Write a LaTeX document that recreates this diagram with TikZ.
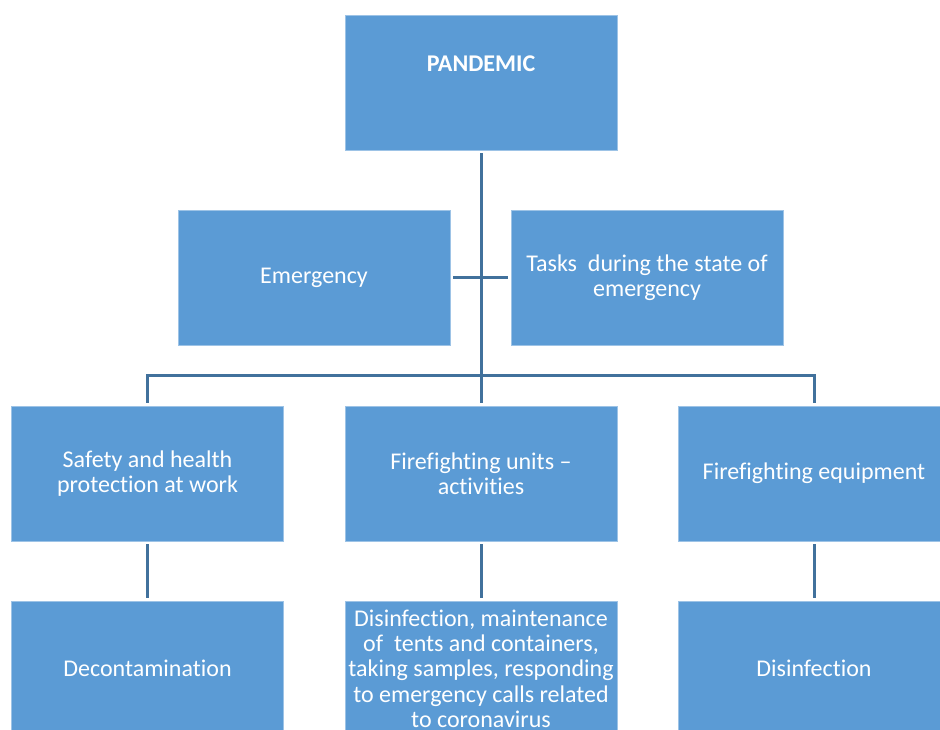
\documentclass[tikz,border=0pt]{standalone}
\usepackage{fontspec}
\setmainfont{Carlito}[Ligatures={NoCommon}]
\definecolor{boxfill}{RGB}{91,155,213}
\definecolor{boxline}{RGB}{157,195,230}
\definecolor{linkcol}{RGB}{65,113,156}
\begin{document}
\begin{tikzpicture}[x=0.75pt, y=-0.75pt,
		box/.style={draw=boxline, line width=0.6pt, fill=boxfill, text=white, align=center,
			minimum width=204pt, minimum height=101.25pt, inner sep=0pt,
			font=\fontsize{18}{19}\selectfont},
		link/.style={draw=linkcol, line width=2.25pt, shorten <=2.25pt, shorten >=2.25pt}]
			%%%%% START %%%%%
			
			\useasboundingbox (0, 0) rectangle (940, 730);
			\clip (0, 0) rectangle (940, 730);
			
			\node[box] (pandemic) at (481, 82.5) {};
			\node[text=white, font=\fontsize{18}{19}\selectfont\bfseries] (pandemicText) at (481, 64) {PANDEMIC};
			
			\node[box] (emergency) at (314, 278) {Emergency};
			\node[box] (tasks) at (647, 278) {Tasks~ during the state of\\emergency};
			
			\node[box] (safety) at (147.5, 473.5) {Safety and health\\protection at work};
			\node[box] (units) at (481, 473.5) {Firefighting units --\\activities};
			\node[box] (equip) at (814, 473.5) {Firefighting equipment};
			
			\node[box] (decon) at (147.5, 668.5) {Decontamination};
			\node[box] (unitTasks) at (481, 668.5) {Disinfection, maintenance\\of~ tents and containers,\\taking samples, responding\\to emergency calls related\\to coronavirus};
			\node[box] (disinf) at (814, 668.5) {Disinfection};
			
			\coordinate (bus) at (481, 376);
			
			\draw[link] (pandemic.south) -- (units.north);
			\draw[link] (emergency.east) -- (tasks.west);
			\draw[link] (safety.north) |- (bus) -| (equip.north);
			
			\draw[link] (safety.south) -- (decon.north);
			\draw[link] (units.south) -- (unitTasks.north);
			\draw[link] (equip.south) -- (disinf.north);
			
			%%%%% END %%%%%
		\end{tikzpicture}
\end{document}
